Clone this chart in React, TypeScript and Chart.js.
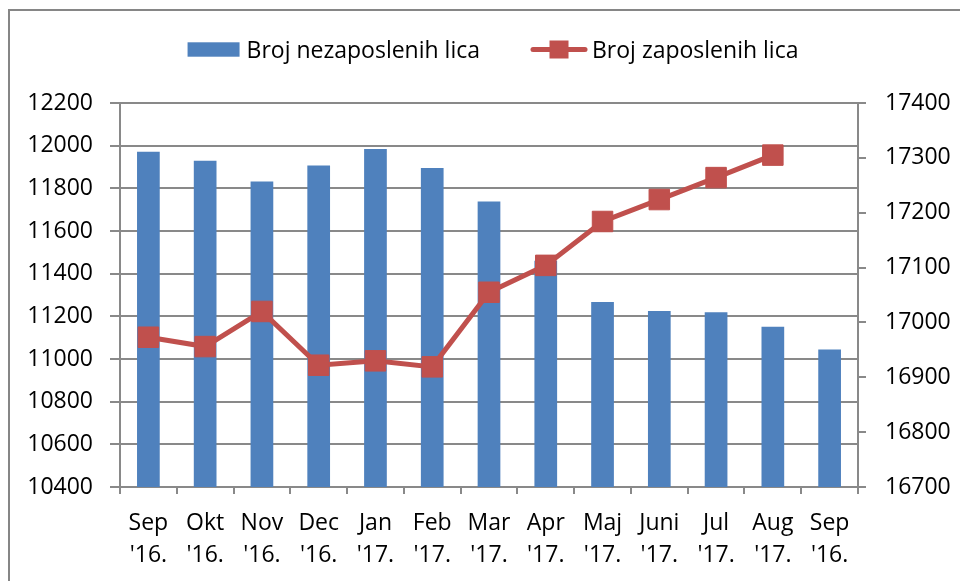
import React, { useEffect, useRef } from "react";
import { Chart, registerables } from "chart.js";

Chart.register(...registerables);

const months = ["Sep", "Okt", "Nov", "Dec", "Jan", "Feb", "Mar", "Apr", "Maj", "Juni", "Jul", "Aug", "Sep"];
const years = ["'16.", "'16.", "'16.", "'16.", "'17.", "'17.", "'17.", "'17.", "'17.", "'17.", "'17.", "'17.", "'16."];
const unemployed = [11971, 11929, 11832, 11907, 11984, 11895, 11738, 11460, 11267, 11225, 11219, 11151, 11045];
const employed: (number | null)[] = [16973, 16956, 17020, 16922, 16930, 16919, 17055, 17104, 17184, 17224, 17264, 17305, null];
const seriesNames = ["Broj nezaposlenih lica", "Broj zaposlenih lica"];
const leftAxis = { min: 10400, max: 12200, step: 200 };
const rightAxis = { min: 16700, max: 17400, step: 100 };

const FONT = "'Open Sans', 'Noto Sans', sans-serif";
const BLUE = "#4F81BD";
const RED = "#C0504D";
const GRID = "#898989";

const framePlugin = {
  id: "frame",
  beforeDraw(chart: any) {
    const ctx = chart.ctx;
    ctx.save();
    ctx.strokeStyle = "#868686";
    ctx.lineWidth = 2;
    ctx.beginPath();
    ctx.moveTo(9, chart.height + 5);
    ctx.lineTo(9, 10);
    ctx.lineTo(chart.width + 5, 10);
    ctx.stroke();
    ctx.restore();
  },
};

const legendPlugin = {
  id: "customLegend",
  afterDraw(chart: any) {
    const ctx = chart.ctx;
    const ds = chart.data.datasets;
    ctx.save();
    ctx.font = `23px ${FONT}`;
    ctx.fillStyle = "#000";
    ctx.textBaseline = "alphabetic";
    ctx.textAlign = "left";
    const t1 = ctx.measureText(ds[0].label).width;
    const t2 = ctx.measureText(ds[1].label).width;
    const sw1 = 52, g1 = 7, gap = 51, sw2 = 56, g2 = 5;
    const total = sw1 + g1 + t1 + gap + sw2 + g2 + t2;
    let x = 493 - total / 2;
    const cy = 49.5;
    const baseY = 57.7;
    ctx.fillStyle = BLUE;
    ctx.fillRect(x, cy - 7.2, sw1, 14.4);
    x += sw1 + g1;
    ctx.fillStyle = "#000";
    ctx.fillText(ds[0].label, x, baseY);
    x += t1 + gap;
    ctx.strokeStyle = RED;
    ctx.lineWidth = 5;
    ctx.lineCap = "round";
    ctx.beginPath();
    ctx.moveTo(x + 2, cy);
    ctx.lineTo(x + sw2 - 2, cy);
    ctx.stroke();
    ctx.fillStyle = RED;
    ctx.fillRect(x + sw2 / 2 - 9.5, cy - 9, 19, 18);
    x += sw2 + g2;
    ctx.fillStyle = "#000";
    ctx.fillText(ds[1].label, x, baseY);
    ctx.restore();
  },
};

const plain = (v: any) => String(v);

export default function App() {
  const ref = useRef<HTMLCanvasElement>(null);
  useEffect(() => {
    if (!ref.current) return;
    Chart.defaults.font.family = FONT;
    Chart.defaults.color = "#000";
    const labels = months.map((m, i) => [m, years[i]]);
    const chart = new Chart(ref.current, {
      type: "bar",
      data: {
        labels,
        datasets: [
          {
            type: "bar",
            label: seriesNames[0],
            data: unemployed,
            backgroundColor: BLUE,
            borderWidth: 0,
            yAxisID: "y",
            barPercentage: 0.4,
            categoryPercentage: 1,
            order: 2,
          },
          {
            type: "line",
            label: seriesNames[1],
            data: employed,
            borderColor: RED,
            backgroundColor: RED,
            borderWidth: 5,
            pointStyle: "rect",
            pointRadius: 14.5,
            pointBackgroundColor: RED,
            pointBorderColor: RED,
            pointBorderWidth: 1,
            tension: 0,
            yAxisID: "y1",
            order: 1,
          } as any,
        ],
      },
      options: {
        responsive: false,
        animation: false,
        devicePixelRatio: 1,
        layout: { padding: { top: 103, left: 0, right: 0, bottom: 0 } },
        plugins: {
          legend: { display: false },
          tooltip: { enabled: false },
        },
        scales: {
          x: {
            afterFit: (s: any) => {
              s.height = 94;
            },
            grid: {
              offset: true,
              drawOnChartArea: false,
              drawTicks: true,
              tickLength: 7,
              color: GRID,
              lineWidth: 2,
            },
            border: { display: true, color: GRID, width: 2 },
            ticks: {
              autoSkip: false,
              maxRotation: 0,
              padding: 13,
              font: { size: 23, lineHeight: "32px" } as any,
              color: "#000",
            },
          },
          y: {
            position: "left",
            min: leftAxis.min,
            max: leftAxis.max,
            afterFit: (s: any) => {
              s.width = 120;
            },
            grid: { color: GRID, lineWidth: 2, tickLength: 10, drawTicks: true },
            border: { display: true, color: GRID, width: 2 },
            ticks: { stepSize: leftAxis.step, padding: 17, font: { size: 23 }, color: "#000", callback: plain },
          },
          y1: {
            position: "right",
            min: rightAxis.min,
            max: rightAxis.max,
            afterFit: (s: any) => {
              s.width = 102;
            },
            grid: { drawOnChartArea: false, color: GRID, lineWidth: 2, tickLength: 8, drawTicks: true },
            border: { display: true, color: GRID, width: 2 },
            ticks: { stepSize: rightAxis.step, padding: 19, font: { size: 23 }, color: "#000", callback: plain },
          },
        },
      },
      plugins: [framePlugin, legendPlugin],
    } as any);
    return () => chart.destroy();
  }, []);
  return (
    <div style={{ position: "absolute", left: 0, top: 0, width: 960, height: 581, background: "#fff" }}>
      <canvas ref={ref} width={960} height={581} style={{ display: "block" }} />
    </div>
  );
}
